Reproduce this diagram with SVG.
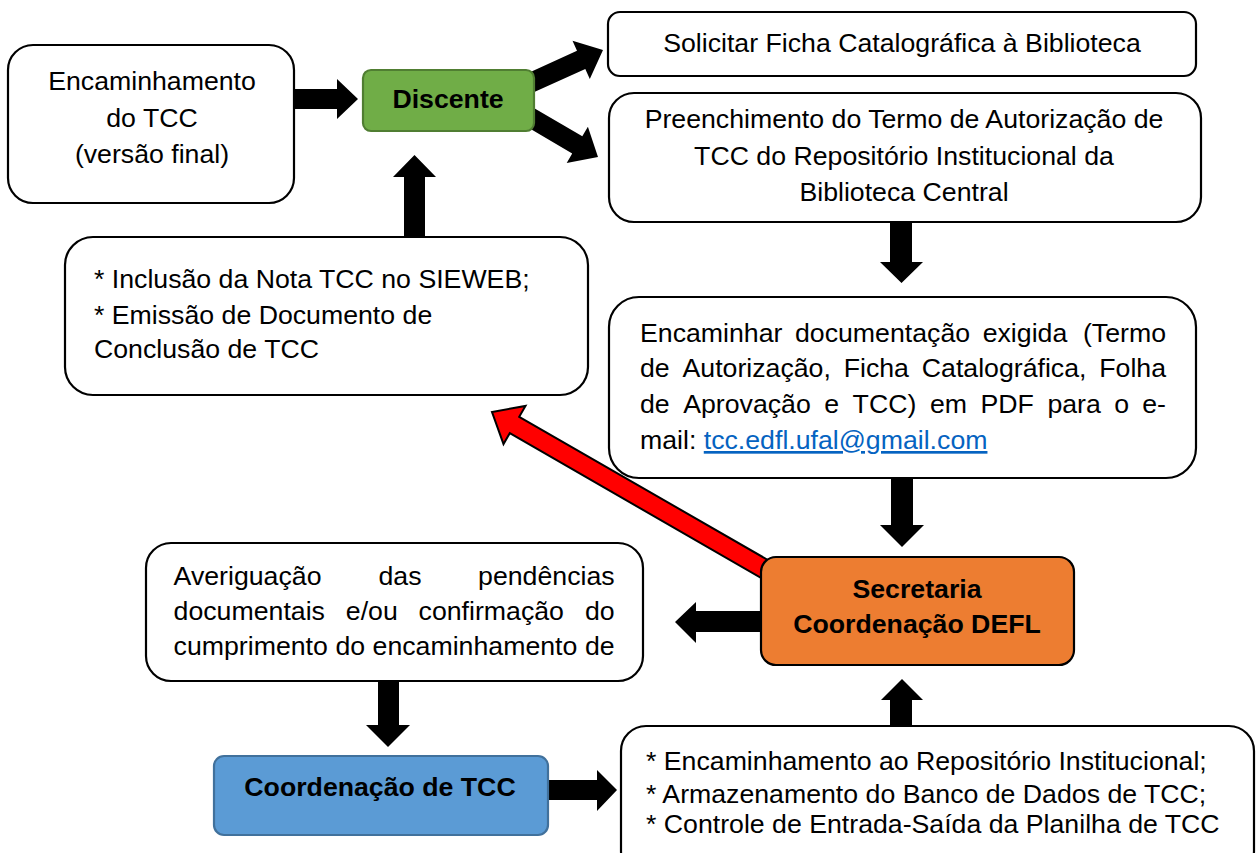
<svg xmlns="http://www.w3.org/2000/svg" width="1256" height="853" viewBox="0 0 1256 853">
<style>
.box{fill:#fff;stroke:#000;stroke-width:2.2}
.t{font-family:"Liberation Sans",Arial,sans-serif;font-size:26.7px;fill:#000}
.b{font-weight:bold}
.c{text-anchor:middle}
.e{text-anchor:end}
.arr{fill:#000}
.link{fill:#0563C1;text-decoration:underline}
</style>
<rect width="1256" height="853" fill="#fff"/>
<g id="connectors">
<polygon class="arr" points="290,89 337,89 337,79 358,99 337,119 337,109 290,109"/>
<polygon class="arr" points="404,240 404,177 393,177 414.5,155 436,177 425,177 425,240"/>
<polygon class="arr" points="532.1,93.1 585.3,69 589.8,79 603,50 572.5,40.8 577,50.8 523.9,74.9"/>
<polygon class="arr" points="523,124.6 572.2,153.5 566.7,163 598,157 587.9,126.8 582.3,136.2 533,107.4"/>
<polygon class="arr" points="890,220 912,220 912,262 923,262 901.5,283 880,262 890,262"/>
<polygon class="arr" points="891,476 913,476 913,525 924,525 902,547 880,525 891,525"/>
<polygon class="arr" points="765,611 696,611 696,602 675,622 696,643 696,632 765,632"/>
<polygon class="arr" points="378,679 399,679 399,725 410,725 388,747 366,725 378,725"/>
<polygon class="arr" points="545,780 597,780 597,770 617,790 597,811 597,800 545,800"/>
<polygon class="arr" points="890,728 890,700 881,700 902,679 923,700 912,700 912,728"/>
<polygon points="779.7,566.8 519.2,416.8 525.5,405.9 492,412 503.5,444.1 509.8,433.2 770.3,583.2" fill="#ff0000" stroke="#000" stroke-width="2" stroke-linejoin="miter"/>
</g>
<g id="node-encaminhamento">
<rect class="box" x="8" y="45" width="286" height="158" rx="25"/>
<text class="t c" x="152" y="90">Encaminhamento</text>
<text class="t c" x="152" y="127">do TCC</text>
<text class="t c" x="152" y="163">(versão final)</text>
</g>
<g id="node-discente">
<rect x="363" y="70" width="171" height="61" rx="8" fill="#70AD47" stroke="#507E32" stroke-width="2.2"/>
<text class="t b c" x="448" y="108">Discente</text>
</g>
<g id="node-solicitar">
<rect class="box" x="608" y="12" width="588" height="64" rx="12"/>
<text class="t c" x="902" y="52">Solicitar Ficha Catalográfica à Biblioteca</text>
</g>
<g id="node-preenchimento">
<rect class="box" x="609" y="93" width="592" height="129" rx="25"/>
<text class="t c" x="904" y="128">Preenchimento do Termo de Autorização de</text>
<text class="t c" x="904" y="165">TCC do Repositório Institucional da</text>
<text class="t c" x="904" y="201">Biblioteca Central</text>
</g>
<g id="node-inclusao">
<rect class="box" x="65" y="237" width="523" height="158" rx="28"/>
<text class="t" x="94" y="288">* Inclusão da Nota TCC no SIEWEB;</text>
<text class="t" x="94" y="324">* Emissão de Documento de</text>
<text class="t" x="94" y="358">Conclusão de TCC</text>
</g>
<g id="node-encaminhar">
<rect class="box" x="609" y="297" width="587" height="181" rx="30"/>
<text class="t" x="640" y="342">Encaminhar</text>
<text class="t" x="795" y="342">documentação</text>
<text class="t" x="982.7" y="342">exigida</text>
<text class="t e" x="1166" y="342">(Termo</text>
<text class="t" x="640" y="377">de</text>
<text class="t" x="682.5" y="377">Autorização,</text>
<text class="t" x="843.7" y="377">Ficha</text>
<text class="t" x="921.8" y="377">Catalográfica,</text>
<text class="t e" x="1166" y="377">Folha</text>
<text class="t" x="640" y="413">de</text>
<text class="t" x="683.2" y="413">Aprovação</text>
<text class="t" x="824.3" y="413">e</text>
<text class="t" x="852.6" y="413">TCC)</text>
<text class="t" x="929.9" y="413">em</text>
<text class="t" x="980.5" y="413">PDF</text>
<text class="t" x="1047.4" y="413">para</text>
<text class="t" x="1114.3" y="413">o</text>
<text class="t e" x="1166" y="413">e-</text>
<text class="t" x="640" y="449">mail: <tspan class="link">tcc.edfl.ufal@gmail.com</tspan></text>
</g>
<g id="node-secretaria">
<rect x="761" y="557" width="313" height="108" rx="15" fill="#ED7D31" stroke="#000" stroke-width="2.2"/>
<text class="t b c" x="917" y="598">Secretaria</text>
<text class="t b c" x="917" y="633">Coordenação DEFL</text>
</g>
<g id="node-averiguacao">
<rect class="box" x="146" y="543" width="497" height="138" rx="25"/>
<text class="t" x="173.6" y="585">Averiguação</text>
<text class="t" x="378.5" y="585">das</text>
<text class="t e" x="614.6" y="585">pendências</text>
<text class="t" x="173.6" y="620">documentais</text>
<text class="t" x="345.8" y="620">e/ou</text>
<text class="t" x="418.6" y="620">confirmação</text>
<text class="t e" x="614.6" y="620">do</text>
<text class="t" x="173.6" y="655">cumprimento</text>
<text class="t" x="335.4" y="655">do</text>
<text class="t" x="372.6" y="655">encaminhamento</text>
<text class="t e" x="614.6" y="655">de</text>
</g>
<g id="node-coordenacao-tcc">
<rect x="214" y="756" width="334" height="79" rx="10" fill="#5B9BD5" stroke="#41719C" stroke-width="2.2"/>
<text class="t b c" x="380" y="796">Coordenação de TCC</text>
</g>
<g id="node-repositorio">
<rect class="box" x="621" y="726" width="633" height="150" rx="25"/>
<text class="t" x="646" y="770">* Encaminhamento ao Repositório Institucional;</text>
<text class="t" x="646" y="803">* Armazenamento do Banco de Dados de TCC;</text>
<text class="t" x="646" y="833">* Controle de Entrada-Saída da Planilha de TCC</text>
</g>
</svg>
